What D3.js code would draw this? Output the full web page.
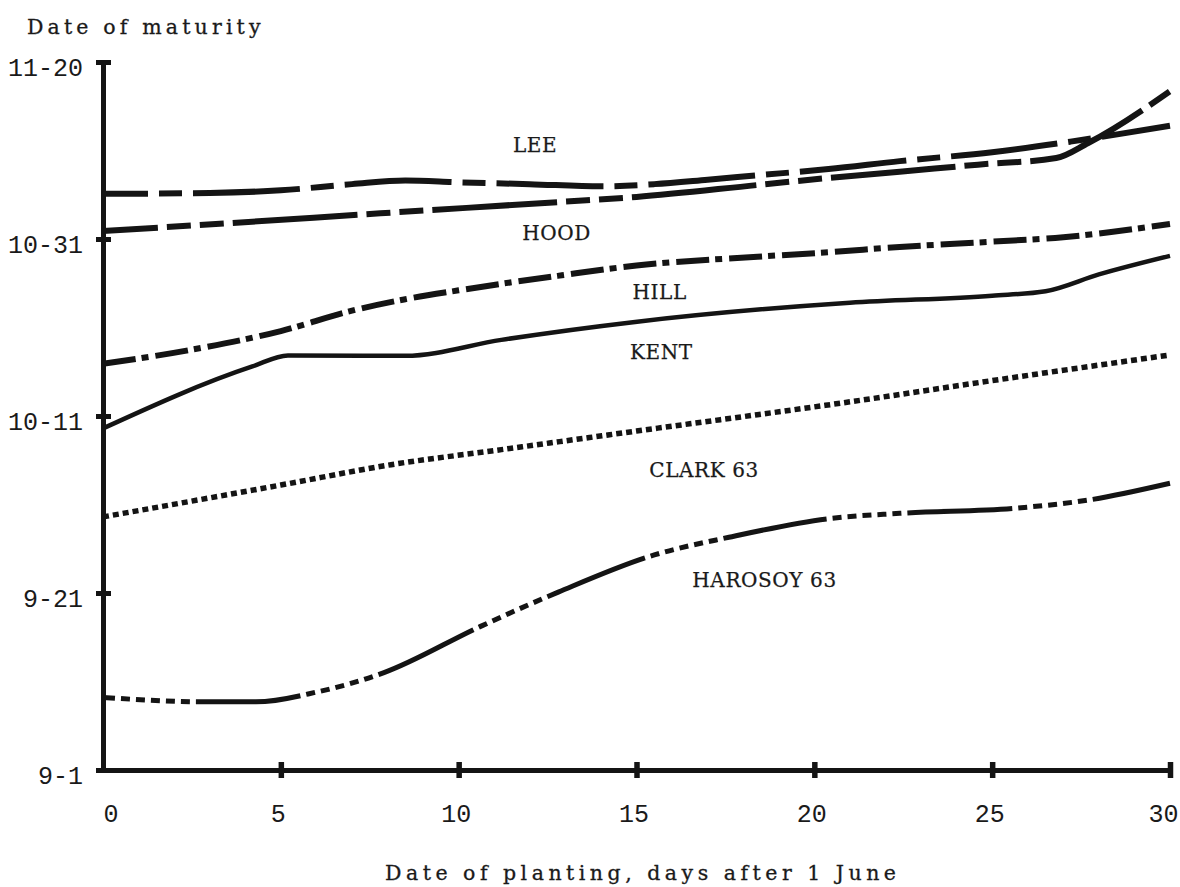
<!DOCTYPE html>
<html>
<head>
<meta charset="utf-8">
<script src="https://cdn.jsdelivr.net/npm/d3@7"></script>
<style>
  html, body { margin: 0; padding: 0; background: #ffffff; }
  svg { display: block; }
  text { fill: #1a1a1a; }
  .tick text { font-family: "Liberation Mono", "DejaVu Sans Mono", monospace; }
  .typed { font-family: "DejaVu Serif", "Liberation Serif", serif; }
</style>
</head>
<body>
<svg id="chart" width="1180" height="887"></svg>
<script>
// Planting date: days after 1 June. Maturity: days after 1 September.
const xTicks = [0, 5, 10, 15, 20, 25, 30];
const yTicks = [0, 20, 40, 60, 80];
const yTickLabels = ["9-1", "9-21", "10-11", "10-31", "11-20"];

const leeX = [0, 3, 5, 7, 8.5, 10, 12, 14, 15.5, 17, 18.4, 20.4, 22.4, 25, 27.2, 30];
const leeY = [65.1, 65.2, 65.5, 66.2, 66.6, 66.4, 66.2, 65.95, 66.2, 66.7, 67.2, 67.9, 68.8, 69.8, 71.0, 72.8];

const hoodX = [0, 3.6, 7.8, 12.9, 15, 18.4, 20.4, 22.4, 24.6, 26.8, 27.7, 30];
const hoodY = [60.9, 61.8, 62.9, 64.2, 64.75, 66.1, 66.9, 67.6, 68.4, 69.15, 70.85, 76.7];

const hillX = [0, 2.5, 5, 7, 8.5, 10, 12.9, 15, 18.4, 20.4, 22.4, 25, 27, 30];
const hillY = [45.9, 47.5, 49.6, 51.9, 53.2, 54.2, 55.9, 57.0, 58.0, 58.5, 59.1, 59.7, 60.2, 61.7];

const kentX = [0, 4.2, 5.2, 8.5, 11.2, 14.9, 21, 25, 26.5, 28, 30];
const kentY = [38.6, 45.6, 46.85, 46.8, 48.6, 50.6, 52.8, 53.6, 54.1, 56.0, 58.1];

const clarkX = [0, 5, 8.1, 11.2, 15, 21, 25, 30];
const clarkY = [28.6, 32.2, 34.5, 36.2, 38.3, 41.6, 44.0, 46.9];

const harosoyX = [0, 2.9, 4.3, 6, 7.9, 10.6, 12.8, 15.5, 17.6, 20.4, 22.4, 25.7, 27.7, 30];
const harosoyY = [8.2, 7.7, 7.7, 8.8, 11.0, 16.2, 20.1, 24.3, 26.3, 28.4, 29.0, 29.6, 30.5, 32.4];

const seriesNames = ["LEE", "HOOD", "HILL", "KENT", "CLARK 63", "HAROSOY 63"];

// Where each variety name is written, in chart units (planting day, maturity day)
const labelX = [12.15, 12.75, 15.65, 15.7, 16.9, 18.6];
const labelY = [70.6, 60.7, 54.0, 47.2, 33.9, 21.5];

const zip = (xs, ys) => xs.map((v, i) => [v, ys[i]]);
const seriesData = [
  zip(leeX, leeY),
  zip(hoodX, hoodY),
  zip(hillX, hillY),
  zip(kentX, kentY),
  zip(clarkX, clarkY),
  zip(harosoyX, harosoyY)
];

// Stroke treatment for each variety (typed-chart style line patterns)
const lineStyles = [
  { width: 6,   dash: "107,11,23,11", offset: 62 },
  { width: 6,   dash: "125,9,24,9,24,9", offset: 70 },
  { width: 6,   dash: "33,6,7,7", offset: 0 },
  { width: 4.5, dash: null, offset: 0 },
  { width: 5.5, dash: "6,4", offset: 0 },
  { width: 5,   dash: "105,6,9,6,9,6,9,6,9,6,9,6", offset: 93 }
];

const svg = d3.select("#chart");
const x = d3.scaleLinear().domain([0, 30]).range([103, 1170]);
const y = d3.scaleLinear().domain([0, 80]).range([770, 62]);
const ink = "#141414";
const advance = 14.6; // typewriter character pitch in px

// Y axis
const yAxis = d3.axisLeft(y)
  .tickValues(yTicks)
  .tickFormat((d, i) => yTickLabels[i])
  .tickSizeInner(0)
  .tickSizeOuter(0)
  .tickPadding(20);
const gy = svg.append("g").attr("transform", `translate(${x(0)},0)`).call(yAxis);
gy.select(".domain").attr("stroke", ink).attr("stroke-width", 5);
gy.selectAll(".tick text")
  .attr("font-size", 25)
  .attr("fill", "#333")
  .attr("dy", "0.55em");
gy.selectAll(".tick").append("line")
  .attr("x1", -7).attr("x2", 8)
  .attr("stroke", ink).attr("stroke-width", 5);

// X axis
const xAxis = d3.axisBottom(x)
  .tickValues(xTicks)
  .tickSizeInner(0)
  .tickSizeOuter(0)
  .tickPadding(34);
const gx = svg.append("g").attr("transform", `translate(0,${y(0)})`).call(xAxis);
gx.select(".domain").attr("stroke", ink).attr("stroke-width", 5);
gx.selectAll(".tick text")
  .attr("font-size", 25)
  .attr("fill", "#333")
  .attr("dx", -3);
gx.selectAll(".tick text").filter(d => d === xTicks[0])
  .attr("text-anchor", "start").attr("dx", 0);
gx.selectAll(".tick text").filter(d => d === xTicks[xTicks.length - 1])
  .attr("text-anchor", "end").attr("dx", 8);
gx.selectAll(".tick").filter(d => d > 0).append("line")
  .attr("y1", -8).attr("y2", 8)
  .attr("stroke", ink).attr("stroke-width", 5.5);

// Axis titles, spaced out to a typewriter pitch
function typed(sel, str) {
  sel.attr("class", "typed")
    .attr("font-size", 20.5)
    .attr("stroke", "#1a1a1a").attr("stroke-width", 0.3)
    .attr("textLength", str.length * advance)
    .attr("lengthAdjust", "spacing")
    .text(str);
}
svg.append("text")
  .attr("x", 27).attr("y", 34)
  .call(typed, "Date of maturity");
svg.append("text")
  .attr("x", 385).attr("y", 880)
  .call(typed, "Date of planting, days after 1 June");

// Variety curves
const line = d3.line()
  .x(d => x(d[0]))
  .y(d => y(d[1]))
  .curve(d3.curveMonotoneX);

svg.append("g")
  .selectAll("path")
  .data(seriesData)
  .join("path")
  .attr("d", line)
  .attr("fill", "none")
  .attr("stroke", ink)
  .attr("stroke-width", (d, i) => lineStyles[i].width)
  .attr("stroke-dasharray", (d, i) => lineStyles[i].dash)
  .attr("stroke-dashoffset", (d, i) => lineStyles[i].offset)
  .attr("stroke-linecap", "butt")
  .attr("stroke-linejoin", "round");

// Variety names
svg.append("g")
  .selectAll("text")
  .data(seriesNames)
  .join("text")
  .attr("class", "typed")
  .attr("x", (d, i) => x(labelX[i]))
  .attr("y", (d, i) => y(labelY[i]))
  .attr("dy", "0.36em")
  .attr("text-anchor", "middle")
  .attr("font-size", 20)
  .attr("letter-spacing", 0.6)
  .attr("stroke", "#1a1a1a").attr("stroke-width", 0.25)
  .text(d => d);
</script>
</body>
</html>
